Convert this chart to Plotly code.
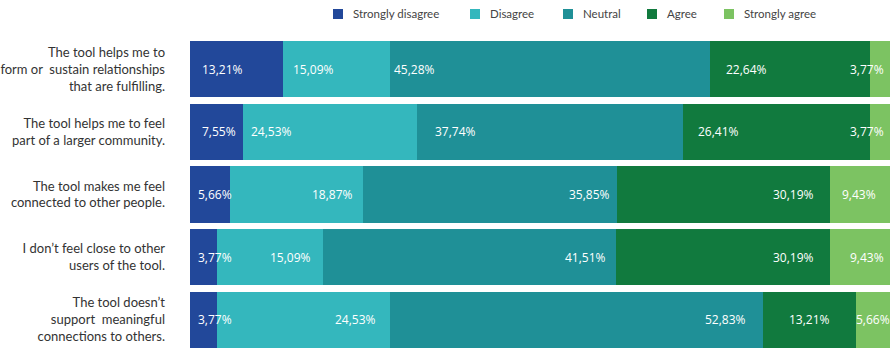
import plotly.graph_objects as go

# Survey statements (top to bottom) and response shares in percent
statements = [
    "The tool helps me to<br>form or  sustain relationships<br>that are fulfilling.",
    "The tool helps me to feel<br>part of a larger community.",
    "The tool makes me feel<br>connected to other people.",
    "I don’t feel close to other<br>users of the tool.",
    "The tool doesn’t<br>support  meaningful<br>connections to others.",
]
responses = ["Strongly disagree", "Disagree", "Neutral", "Agree", "Strongly agree"]

strongly_disagree = [13.21, 7.55, 5.66, 3.77, 3.77]
disagree = [15.09, 24.53, 18.87, 15.09, 24.53]
neutral = [45.28, 37.74, 35.85, 41.51, 52.83]
agree = [22.64, 26.41, 30.19, 30.19, 13.21]
strongly_agree = [3.77, 3.77, 9.43, 9.43, 5.66]

series = [strongly_disagree, disagree, neutral, agree, strongly_agree]
colors = ["#22489a", "#34b7bd", "#1f9097", "#117a3e", "#7cc362"]

# Label placement per cell: (anchor side within the segment, pixel nudge)
label_place = [
    [("l", 10), ("l", 8), ("l", 2), ("l", 14), ("l", -22)],
    [("l", 10), ("l", 6), ("l", 16), ("l", 13), ("l", -22)],
    [("l", 6), ("r", -8), ("r", -5), ("r", -14), ("l", 10)],
    [("l", 6), ("r", -10), ("r", -8), ("r", -14), ("l", 18)],
    [("l", 6), ("r", -12), ("r", -15), ("r", -24), ("l", -2)],
]

# Page geometry (pixels)
W, H = 890, 353
ML, MR, MT, MB = 190, 0, 38, 2
PW, PH = W - ML - MR, H - MT - MB

# Legend row: left edge of each entry's text, in page pixels
legend_text_x = [352, 489, 582, 666, 743]
legend_y = 14
swatch = 10


def px_x(px):
    return (px - ML) / PW


def px_y(py):
    return (H - MB - py) / PH


def fmt(v):
    return f"{v:.2f}".replace(".", ",") + "%"


fig = go.Figure()
for name, vals, col in zip(responses, series, colors):
    fig.add_trace(go.Bar(
        name=name,
        y=statements,
        x=vals,
        orientation="h",
        marker=dict(color=col, line=dict(width=0)),
        hoverinfo="skip",
    ))

annotations = []
for r, stmt in enumerate(statements):
    start = 0.0
    for c, vals in enumerate(series):
        v = vals[r]
        side, nudge = label_place[r][c]
        x = start if side == "l" else start + v
        annotations.append(dict(
            x=x, y=stmt, xref="x", yref="y",
            text=fmt(v), showarrow=False,
            xanchor="left" if side == "l" else "right",
            xshift=nudge,
            font=dict(family="Open Sans", size=12, color="white"),
        ))
        start += v

# Legend drawn as swatches and labels above the bars
shapes = []
for name, col, tx in zip(responses, colors, legend_text_x):
    sx = tx - 19
    shapes.append(dict(
        type="rect", xref="paper", yref="paper",
        x0=px_x(sx), x1=px_x(sx + swatch),
        y0=px_y(legend_y + swatch / 2), y1=px_y(legend_y - swatch / 2),
        fillcolor=col, line=dict(width=0),
    ))
    annotations.append(dict(
        x=px_x(tx), y=px_y(legend_y), xref="paper", yref="paper",
        text=name, showarrow=False, xanchor="left", yanchor="middle",
        xshift=-1,
        font=dict(family="Lato", size=11.5, color="#444"),
    ))

fig.update_layout(
    width=W, height=H,
    margin=dict(l=ML, r=MR, t=MT, b=MB, autoexpand=False),
    barmode="stack",
    bargap=0.1,
    plot_bgcolor="white",
    paper_bgcolor="white",
    showlegend=False,
    xaxis=dict(range=[0, 99.1], visible=False, fixedrange=True),
    yaxis=dict(
        autorange="reversed",
        automargin=False,
        showgrid=False, zeroline=False, showline=False,
        ticks="",
        ticklabelstandoff=24,
        tickfont=dict(family="Lato", size=13, color="#333"),
    ),
    shapes=shapes,
    annotations=annotations,
)

fig.write_html("out.html")
